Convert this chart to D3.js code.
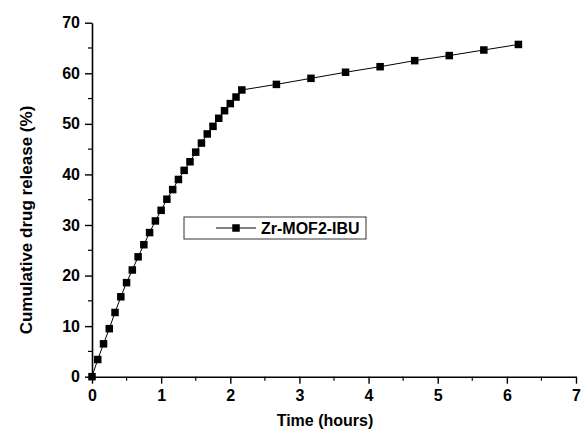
<!DOCTYPE html>
<html>
<head>
<meta charset="utf-8">
<script src="https://cdn.jsdelivr.net/npm/d3@7"></script>
<style>
  html, body { margin: 0; padding: 0; background: #fff; }
  svg text { font-family: "Liberation Sans", Arial, sans-serif; font-weight: bold; fill: #000; }
</style>
</head>
<body>
<div class="chart"></div>
<script>
/* DATA */
const timeHours = [0, 0.083, 0.167, 0.25, 0.333, 0.417, 0.5, 0.583, 0.667, 0.75, 0.833, 0.917,
  1, 1.083, 1.167, 1.25, 1.333, 1.417, 1.5, 1.583, 1.667, 1.75, 1.833, 1.917, 2, 2.083, 2.167,
  2.667, 3.167, 3.667, 4.167, 4.667, 5.167, 5.667, 6.167];
const releasePct = [0, 3.4, 6.5, 9.5, 12.7, 15.8, 18.6, 21.1, 23.7, 26.1, 28.5, 30.8,
  32.9, 35.1, 37.0, 39.0, 40.8, 42.5, 44.4, 46.2, 48.0, 49.5, 51.1, 52.6, 54.0, 55.3, 56.7,
  57.8, 59.0, 60.2, 61.3, 62.5, 63.5, 64.6, 65.7];
const seriesName = "Zr-MOF2-IBU";
const xTicks = [0, 1, 2, 3, 4, 5, 6, 7];
const yTicks = [0, 10, 20, 30, 40, 50, 60, 70];

/* CONSTANTS */
const width = 581, height = 432;
const m = { top: 22.7, right: 5, bottom: 55.3, left: 92 };

const data = timeHours.map((t, i) => ({ t: t, v: releasePct[i] }));

const xScale = d3.scaleLinear().domain([0, 7]).range([m.left, width - m.right]);
const yScale = d3.scaleLinear().domain([0, 70]).range([height - m.bottom, m.top]);

const svg = d3.select(".chart")
  .append("svg")
  .attr("width", width)
  .attr("height", height);

// X AXIS
const xAxis = svg.append("g")
  .attr("transform", `translate(0, ${yScale(0)})`)
  .call(d3.axisBottom(xScale).tickValues(xTicks).tickFormat(d3.format("d"))
    .tickSize(7).tickSizeOuter(0).tickPadding(6));
xAxis.select(".domain").attr("stroke-width", 1.6);
xAxis.selectAll(".tick line").attr("stroke-width", 1.4);
xAxis.selectAll(".tick text").attr("font-size", 16).attr("font-family", null);

svg.append("g")
  .attr("transform", `translate(0, ${yScale(0)})`)
  .selectAll("line")
  .data(d3.range(0.5, 7, 1))
  .enter()
  .append("line")
  .attr("x1", d => xScale(d)).attr("x2", d => xScale(d))
  .attr("y1", 0).attr("y2", 4)
  .attr("stroke", "#000").attr("stroke-width", 1.2);

// Y AXIS
const yAxis = svg.append("g")
  .attr("transform", `translate(${xScale(0)}, 0)`)
  .call(d3.axisLeft(yScale).tickValues(yTicks).tickFormat(d3.format("d"))
    .tickSize(7).tickSizeOuter(0).tickPadding(5));
yAxis.select(".domain").attr("stroke-width", 1.6);
yAxis.selectAll(".tick line").attr("stroke-width", 1.4);
yAxis.selectAll(".tick text").attr("font-size", 16).attr("font-family", null);

svg.append("g")
  .attr("transform", `translate(${xScale(0)}, 0)`)
  .selectAll("line")
  .data(d3.range(5, 70, 10))
  .enter()
  .append("line")
  .attr("y1", d => yScale(d)).attr("y2", d => yScale(d))
  .attr("x1", 0).attr("x2", -4)
  .attr("stroke", "#000").attr("stroke-width", 1.2);

// AXIS TITLES
svg.append("text")
  .attr("x", 325)
  .attr("y", 426)
  .attr("text-anchor", "middle")
  .attr("font-size", 16)
  .text("Time (hours)");

svg.append("text")
  .attr("transform", `translate(32, 220) rotate(-90)`)
  .attr("text-anchor", "middle")
  .attr("font-size", 17)
  .text("Cumulative drug release (%)");

// LINE + MARKERS
svg.append("path")
  .datum(data)
  .attr("fill", "none")
  .attr("stroke", "#000")
  .attr("stroke-width", 1)
  .attr("d", d3.line().x(d => xScale(d.t)).y(d => yScale(d.v)));

const sq = 7.5;
svg.selectAll(".pt")
  .data(data)
  .enter()
  .append("rect")
  .attr("class", "pt")
  .attr("x", d => xScale(d.t) - sq / 2)
  .attr("y", d => yScale(d.v) - sq / 2)
  .attr("width", sq)
  .attr("height", sq)
  .attr("fill", "#000");

// LEGEND
const lg = svg.append("g").attr("transform", "translate(184, 217)");
lg.append("rect")
  .attr("x", 0).attr("y", 0)
  .attr("width", 182).attr("height", 22)
  .attr("fill", "#fff")
  .attr("stroke", "#333")
  .attr("stroke-width", 1);
lg.append("line")
  .attr("x1", 32).attr("x2", 72)
  .attr("y1", 11).attr("y2", 11)
  .attr("stroke", "#000").attr("stroke-width", 1);
lg.append("rect")
  .attr("x", 52 - sq / 2).attr("y", 11 - sq / 2)
  .attr("width", sq).attr("height", sq)
  .attr("fill", "#000");
lg.append("text")
  .attr("x", 77)
  .attr("y", 17)
  .attr("font-size", 16)
  .text(seriesName);
</script>
</body>
</html>
